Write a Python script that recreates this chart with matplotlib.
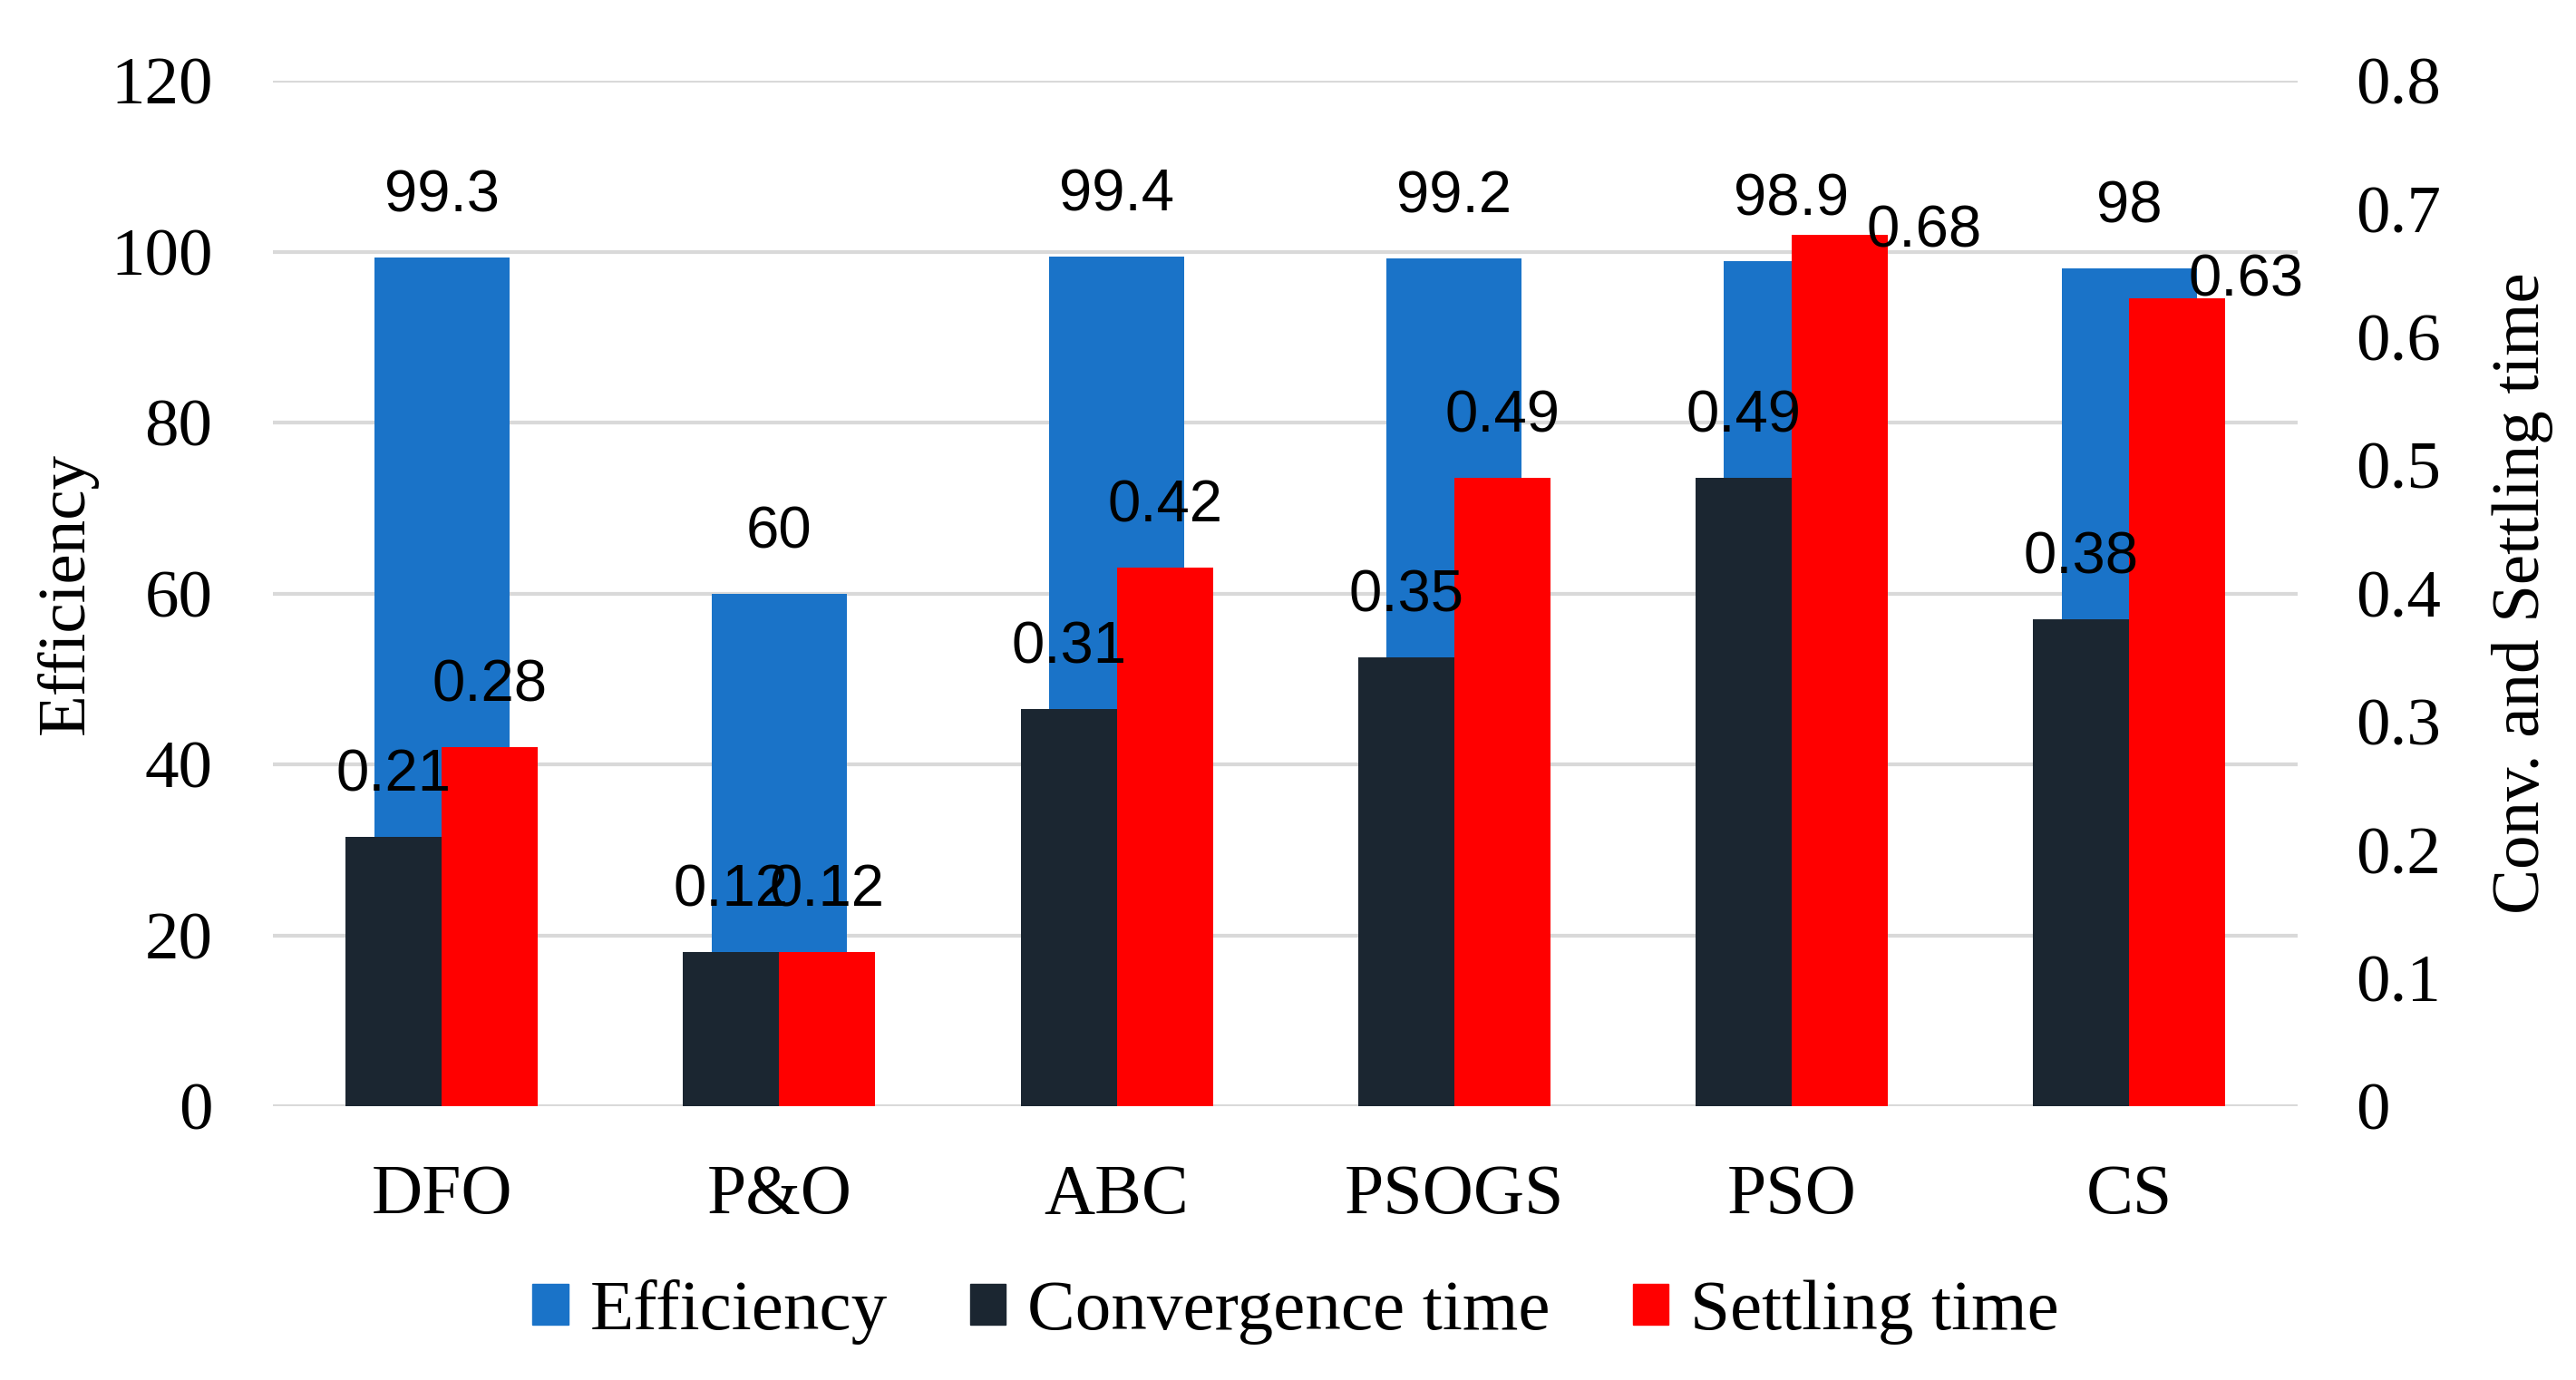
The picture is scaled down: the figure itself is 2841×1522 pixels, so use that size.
import matplotlib
matplotlib.use("Agg")
import matplotlib.pyplot as plt
import numpy as np
from matplotlib.patches import Patch

# данные
methods = ['DFO', 'P&O', 'ABC', 'PSOGS', 'PSO', 'CS']
efficiency = [99.3, 60, 99.4, 99.2, 98.9, 98]
conv_time = [0.21, 0.12, 0.31, 0.35, 0.49, 0.38]
settl_time = [0.28, 0.12, 0.42, 0.49, 0.68, 0.63]

c_eff = '#1a73c8'
c_conv = '#1b2631'
c_settl = '#ff0000'
serif = 'Liberation Serif'
lbl_font = ['Liberation Sans Narrow', 'Liberation Sans']

# подписи, сдвинутые вправо от столбца (как в Excel): индекс -> (dx, dy) в пунктах
settl_shift = {4: (67, 2), 5: (55, 14)}

fig = plt.figure(figsize=(28.41, 15.22), dpi=100)
ax = fig.add_axes([0.106, 0.1984, 0.786, 0.7431])
ax2 = ax.twinx()

x = np.arange(len(methods))
w_eff = 0.40
w = 0.285

b1 = ax.bar(x, efficiency, w_eff, color=c_eff, zorder=2)
b2 = ax2.bar(x - w / 2, conv_time, w, color=c_conv, zorder=2)
b3 = ax2.bar(x + w / 2, settl_time, w, color=c_settl, zorder=2)

# подписи значений
def add_labels(axis, bars, vals, shift=None):
    shift = shift or {}
    for i, (b, v) in enumerate(zip(bars, vals)):
        if i in shift:
            off, va = shift[i], 'center'
        else:
            off, va = (0, 27), 'bottom'
        axis.annotate(f'{v:g}', (b.get_x() + b.get_width() / 2, b.get_height()),
                      xytext=off, textcoords='offset points',
                      ha='center', va=va, fontsize=47, family=lbl_font,
                      zorder=5)

add_labels(ax, b1, efficiency)
add_labels(ax2, b2, conv_time)
add_labels(ax2, b3, settl_time, settl_shift)

ax.set_xlim(-0.5, len(methods) - 0.5)
ax.set_ylim(0, 120)
ax.set_yticks(np.arange(0, 121, 20))
ax2.set_ylim(0, 0.8)
ax2.set_yticks(np.round(np.arange(0, 0.81, 0.1), 1))
ax2.set_yticklabels(['0', '0.1', '0.2', '0.3', '0.4', '0.5', '0.6', '0.7', '0.8'])

ax.grid(axis='y', color='#d9d9d9', linewidth=3, zorder=0)
ax.set_axisbelow(True)
for a in (ax, ax2):
    for s in a.spines.values():
        s.set_visible(False)
    a.tick_params(length=0)

ax.set_xticks(x)
ax.set_xticklabels(methods, fontsize=56, family=serif)
ax.tick_params(axis='x', pad=46)
ax.tick_params(axis='y', labelsize=54, pad=48)
ax2.tick_params(axis='y', labelsize=54, pad=46)
for t in ax.get_yticklabels() + ax2.get_yticklabels():
    t.set_family(serif)

ax.set_ylabel('Efficiency', fontsize=54, family=serif, va='center')
ax.yaxis.set_label_coords(-0.102, 0.5)
ax2.set_ylabel('Conv. and Settling time', fontsize=54, family=serif,
               va='center', rotation=90)
ax2.yaxis.set_label_coords(1.111, 0.5)

handles = [Patch(color=c_eff), Patch(color=c_conv), Patch(color=c_settl)]
fig.legend(handles, ['Efficiency', 'Convergence time', 'Settling time'],
           loc='center', bbox_to_anchor=(0.503, 0.049), ncol=3, frameon=False,
           prop={'family': serif, 'size': 57}, handlelength=0.5,
           handleheight=0.5, handletextpad=0.3, columnspacing=1.15)

fig.savefig('out.png', dpi=100)
